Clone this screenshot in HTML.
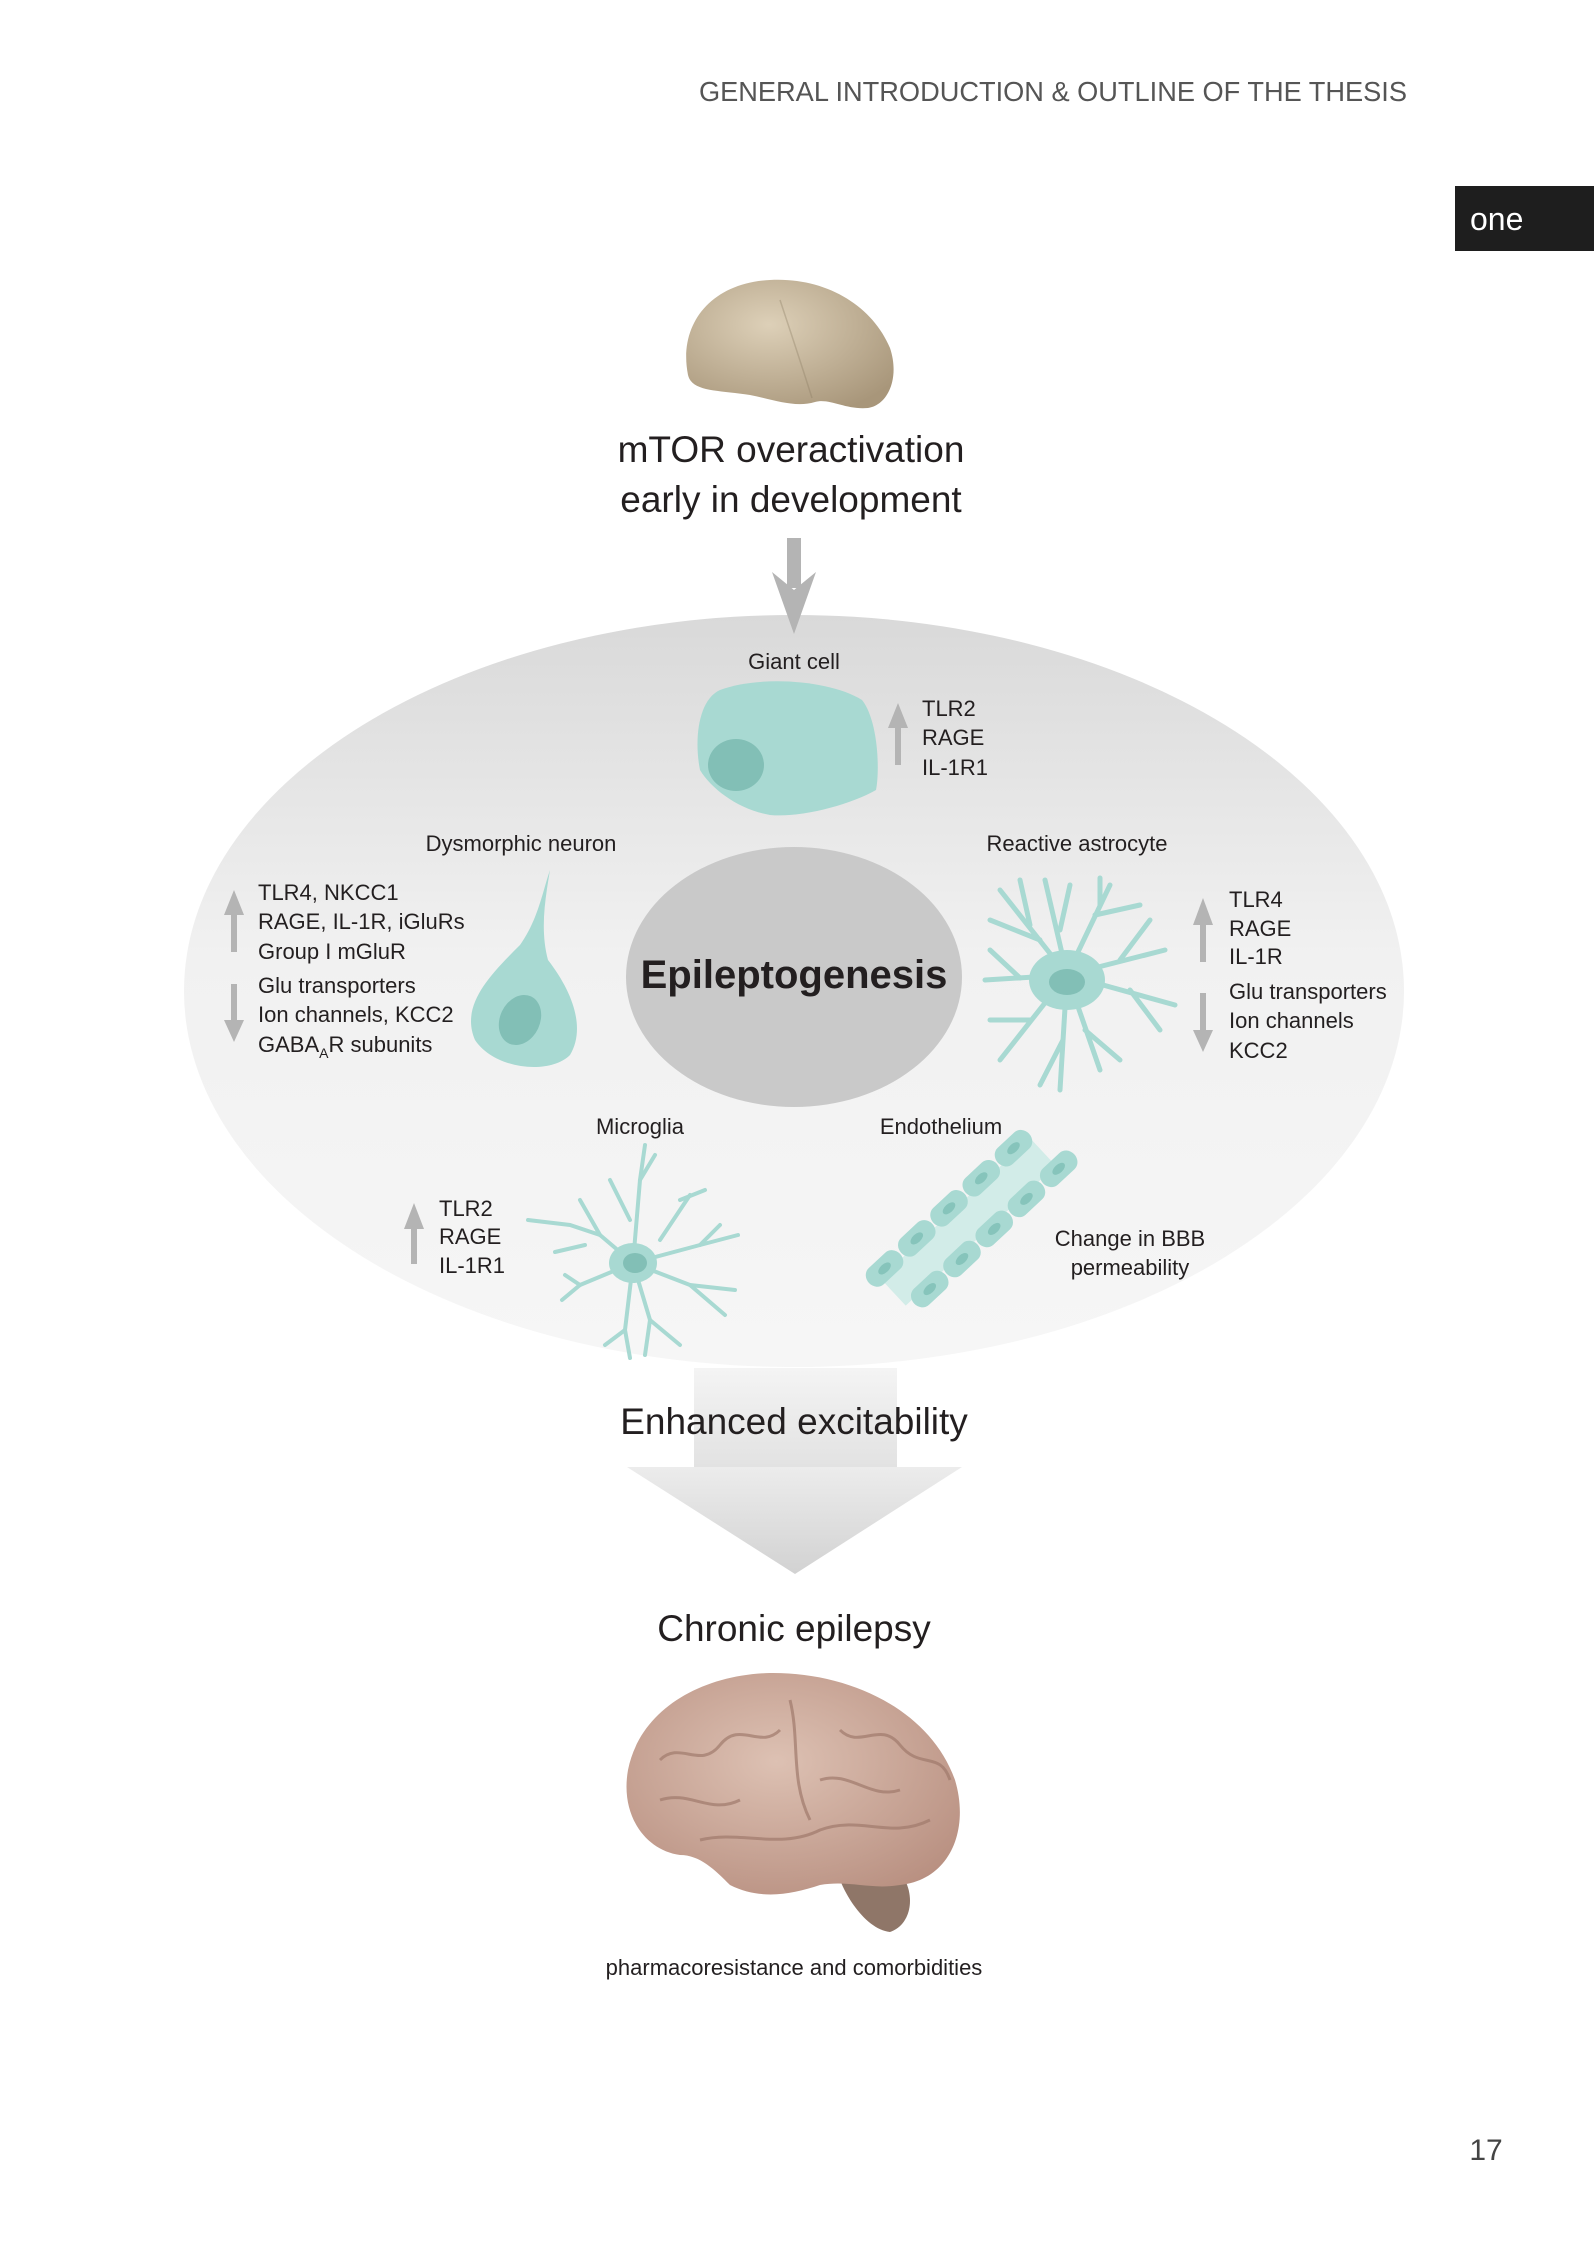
<!DOCTYPE html>
<html><head><meta charset="utf-8"><style>
html,body{margin:0;padding:0;background:#fff}
svg{display:block}
text{font-family:"Liberation Sans",sans-serif;fill:#231f20}
</style></head><body>
<svg width="1594" height="2250" viewBox="0 0 1594 2250" xmlns="http://www.w3.org/2000/svg">
<defs>
<linearGradient id="eg" x1="0" y1="0" x2="0" y2="1">
<stop offset="0" stop-color="#d9d9d9"/><stop offset="0.45" stop-color="#f1f1f1"/><stop offset="1" stop-color="#f6f6f6"/>
</linearGradient>
<linearGradient id="sg" x1="0" y1="0" x2="0" y2="1">
<stop offset="0" stop-color="#f4f4f4"/><stop offset="1" stop-color="#e2e2e2"/>
</linearGradient>
<linearGradient id="hg" x1="0" y1="0" x2="0" y2="1">
<stop offset="0" stop-color="#ececec"/><stop offset="1" stop-color="#d2d2d2"/>
</linearGradient>
<radialGradient id="br" cx="0.45" cy="0.4" r="0.7">
<stop offset="0" stop-color="#ddc1b3"/><stop offset="1" stop-color="#b88f80"/>
</radialGradient>
<radialGradient id="tb" cx="0.4" cy="0.35" r="0.75">
<stop offset="0" stop-color="#ddd0b8"/><stop offset="1" stop-color="#a8967a"/>
</radialGradient>
</defs>

<text x="1407" y="101" font-size="28" text-anchor="end" textLength="708" lengthAdjust="spacingAndGlyphs" style="fill:#555" font-weight="300">GENERAL INTRODUCTION &amp; OUTLINE OF THE THESIS</text>
<rect x="1455" y="186" width="139" height="65" fill="#1e1e1e"/>
<text x="1470" y="230" font-size="32" style="fill:#fff">one</text>

<!-- top brain -->
<path d="M688,375 C678,325 710,283 770,280 C825,277 872,305 890,348 C900,378 888,405 868,408 C845,410 830,398 815,402 C795,408 775,400 750,395 C718,390 692,392 688,375 Z" fill="url(#tb)"/>
<path d="M780,300 C790,330 800,360 812,398" stroke="#8a7a60" stroke-width="1.5" fill="none" opacity="0.35"/>

<text x="791" y="462" font-size="37" text-anchor="middle">mTOR overactivation</text>
<text x="791" y="512" font-size="37" text-anchor="middle">early in development</text>

<!-- big ellipse -->
<ellipse cx="794" cy="991" rx="610" ry="376" fill="url(#eg)"/>

<!-- top arrow -->
<rect x="787" y="538" width="14" height="50" fill="#b4b4b4"/>
<path d="M772,572 L794,634 L816,572 L794,590 Z" fill="#b4b4b4"/>

<!-- big down arrow -->
<rect x="694" y="1368" width="203" height="100" fill="url(#sg)"/>
<path d="M627,1467 L962,1467 L795,1574 Z" fill="url(#hg)"/>

<!-- Giant cell -->
<text x="794" y="669" font-size="22" text-anchor="middle">Giant cell</text>
<path d="M720,690 C760,675 830,680 862,700 C878,720 880,770 876,790 C850,805 800,818 770,815 C740,810 712,790 700,770 C694,740 698,700 720,690 Z" fill="#a8d9d2"/>
<ellipse cx="736" cy="765" rx="28" ry="26" fill="#82bfb6"/>
<rect x="895" y="725" width="6" height="40" fill="#b4b4b4"/><path d="M888,728 L898,703 L908,728 Z" fill="#b4b4b4"/>
<text x="922" y="716" font-size="22">TLR2</text>
<text x="922" y="745" font-size="22">RAGE</text>
<text x="922" y="775" font-size="22">IL-1R1</text>

<!-- Epileptogenesis -->
<ellipse cx="794" cy="977" rx="168" ry="130" fill="#c9c9c9"/>
<text x="794" y="988" font-size="40" font-weight="bold" text-anchor="middle">Epileptogenesis</text>

<!-- Dysmorphic neuron -->
<text x="521" y="851" font-size="22" text-anchor="middle">Dysmorphic neuron</text>
<path d="M550,870 C545,900 540,930 548,960 C575,995 585,1030 570,1055 C550,1075 495,1070 475,1040 C460,1005 490,975 520,945 C538,920 543,890 550,870 Z" fill="#a8d9d2"/>
<ellipse cx="520" cy="1020" rx="20" ry="26" transform="rotate(25 520 1020)" fill="#82bfb6"/>
<rect x="231" y="912" width="6" height="40" fill="#b4b4b4"/><path d="M224,915 L234,890 L244,915 Z" fill="#b4b4b4"/>
<rect x="231" y="984" width="6" height="40" fill="#b4b4b4"/><path d="M224,1020 L234,1042 L244,1020 Z" fill="#b4b4b4"/>
<text x="258" y="900" font-size="22">TLR4, NKCC1</text>
<text x="258" y="929" font-size="22">RAGE, IL-1R, iGluRs</text>
<text x="258" y="959" font-size="22">Group I mGluR</text>
<text x="258" y="993" font-size="22">Glu transporters</text>
<text x="258" y="1022" font-size="22">Ion channels, KCC2</text>
<text x="258" y="1052" font-size="22">GABA<tspan font-size="14" dy="6">A</tspan><tspan dy="-6">R subunits</tspan></text>

<!-- Reactive astrocyte -->
<text x="1077" y="851" font-size="22" text-anchor="middle">Reactive astrocyte</text>
<g stroke="#a8d9d2" stroke-width="5" fill="none" stroke-linecap="round">
<path d="M1067,975 L1000,890"/><path d="M1040,940 L990,920"/><path d="M1030,925 L1020,880"/>
<path d="M1067,975 L1045,880"/><path d="M1060,930 L1070,885"/>
<path d="M1067,975 L1110,885"/><path d="M1095,915 L1140,905"/><path d="M1100,905 L1100,878"/>
<path d="M1067,975 L1165,950"/><path d="M1120,960 L1150,920"/>
<path d="M1067,975 L1175,1005"/><path d="M1130,990 L1160,1030"/>
<path d="M1067,975 L1100,1070"/><path d="M1085,1030 L1120,1060"/>
<path d="M1067,975 L1060,1090"/><path d="M1063,1040 L1040,1085"/>
<path d="M1067,975 L1000,1060"/><path d="M1030,1020 L990,1020"/>
<path d="M1067,975 L985,980"/><path d="M1020,978 L990,950"/>
</g>
<ellipse cx="1067" cy="980" rx="38" ry="30" fill="#a8d9d2"/>
<ellipse cx="1067" cy="982" rx="18" ry="13" fill="#82bfb6"/>
<rect x="1200" y="922" width="6" height="40" fill="#b4b4b4"/><path d="M1193,925 L1203,898 L1213,925 Z" fill="#b4b4b4"/>
<rect x="1200" y="993" width="6" height="40" fill="#b4b4b4"/><path d="M1193,1030 L1203,1052 L1213,1030 Z" fill="#b4b4b4"/>
<text x="1229" y="907" font-size="22">TLR4</text>
<text x="1229" y="936" font-size="22">RAGE</text>
<text x="1229" y="964" font-size="22">IL-1R</text>
<text x="1229" y="999" font-size="22">Glu transporters</text>
<text x="1229" y="1028" font-size="22">Ion channels</text>
<text x="1229" y="1058" font-size="22">KCC2</text>

<!-- Microglia -->
<text x="640" y="1134" font-size="22" text-anchor="middle">Microglia</text>
<g stroke="#a8d9d2" stroke-width="4" fill="none" stroke-linecap="round">
<path d="M633,1263 L640,1180 L645,1145"/><path d="M640,1180 L655,1155"/><path d="M630,1220 L610,1180"/>
<path d="M633,1263 L600,1235 L570,1225 L528,1220"/><path d="M600,1235 L580,1200"/><path d="M585,1245 L555,1252"/>
<path d="M633,1263 L700,1245 L738,1235"/><path d="M700,1245 L720,1225"/><path d="M660,1240 L690,1195"/><path d="M680,1200 L705,1190"/>
<path d="M633,1263 L690,1285 L725,1315"/><path d="M690,1285 L735,1290"/>
<path d="M633,1263 L650,1320 L680,1345"/><path d="M650,1320 L645,1355"/>
<path d="M633,1263 L625,1330 L605,1345"/><path d="M625,1330 L630,1358"/>
<path d="M633,1263 L580,1285 L562,1300"/><path d="M580,1285 L565,1275"/>
</g>
<ellipse cx="633" cy="1263" rx="24" ry="20" fill="#a8d9d2"/>
<ellipse cx="635" cy="1263" rx="12" ry="10" fill="#82bfb6"/>
<rect x="411" y="1226" width="6" height="38" fill="#b4b4b4"/><path d="M404,1229 L414,1203 L424,1229 Z" fill="#b4b4b4"/>
<text x="439" y="1216" font-size="22">TLR2</text>
<text x="439" y="1244" font-size="22">RAGE</text>
<text x="439" y="1273" font-size="22">IL-1R1</text>

<!-- Endothelium -->
<text x="941" y="1134" font-size="22" text-anchor="middle">Endothelium</text>
<g transform="translate(968 1222) rotate(-43) scale(0.76 0.85)">
<rect x="-135" y="-22" width="270" height="44" fill="#d2ece8"/>
<g fill="#a8d9d2">
<rect x="-150" y="-40" width="56" height="26" rx="13"/><rect x="-92" y="-40" width="56" height="26" rx="13"/><rect x="-34" y="-40" width="56" height="26" rx="13"/><rect x="24" y="-40" width="56" height="26" rx="13"/><rect x="82" y="-40" width="56" height="26" rx="13"/>
<rect x="-125" y="14" width="56" height="26" rx="13"/><rect x="-67" y="14" width="56" height="26" rx="13"/><rect x="-9" y="14" width="56" height="26" rx="13"/><rect x="49" y="14" width="56" height="26" rx="13"/><rect x="107" y="14" width="56" height="26" rx="13"/>
</g>
<g fill="#86c4bb">
<ellipse cx="-122" cy="-27" rx="10" ry="5"/><ellipse cx="-64" cy="-27" rx="10" ry="5"/><ellipse cx="-6" cy="-27" rx="10" ry="5"/><ellipse cx="52" cy="-27" rx="10" ry="5"/><ellipse cx="110" cy="-27" rx="10" ry="5"/>
<ellipse cx="-97" cy="27" rx="10" ry="5"/><ellipse cx="-39" cy="27" rx="10" ry="5"/><ellipse cx="19" cy="27" rx="10" ry="5"/><ellipse cx="77" cy="27" rx="10" ry="5"/><ellipse cx="135" cy="27" rx="10" ry="5"/>
</g>
</g>
<text x="1130" y="1246" font-size="22" text-anchor="middle">Change in BBB</text>
<text x="1130" y="1275" font-size="22" text-anchor="middle">permeability</text>

<text x="794" y="1434" font-size="37" text-anchor="middle">Enhanced excitability</text>
<text x="794" y="1641" font-size="37" text-anchor="middle">Chronic epilepsy</text>

<!-- bottom brain -->
<path d="M840,1880 C850,1905 870,1930 890,1932 C910,1925 915,1900 905,1880 Z" fill="#8f7668"/>
<path d="M628,1770 C640,1710 700,1675 770,1673 C850,1672 930,1710 955,1780 C970,1830 950,1880 900,1885 C870,1890 850,1880 820,1885 C790,1895 760,1900 730,1885 C715,1870 700,1855 680,1855 C645,1850 620,1815 628,1770 Z" fill="url(#br)"/>
<g stroke="#a07a6c" stroke-width="3" fill="none" opacity="0.7">
<path d="M660,1760 C680,1740 700,1770 720,1745 C740,1720 760,1750 780,1730"/>
<path d="M700,1840 C740,1830 780,1850 820,1830 C860,1815 890,1840 930,1820"/>
<path d="M790,1700 C800,1740 790,1780 810,1820"/>
<path d="M660,1800 C690,1790 710,1815 740,1800"/>
<path d="M840,1730 C860,1750 880,1720 900,1745 C920,1770 940,1750 950,1780"/>
<path d="M820,1780 C850,1770 870,1800 900,1790"/>
</g>
<text x="794" y="1975" font-size="22" text-anchor="middle">pharmacoresistance and comorbidities</text>

<text x="1486" y="2160" font-size="30" text-anchor="middle" style="fill:#444" font-weight="300">17</text>
</svg>
</body></html>
